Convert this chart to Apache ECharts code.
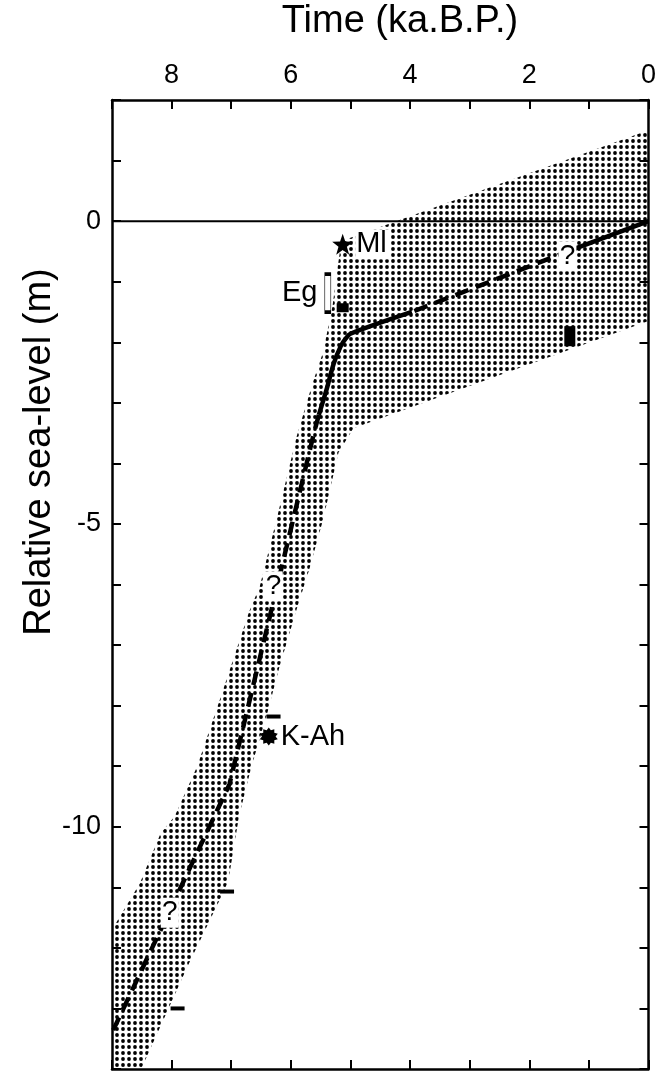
<!DOCTYPE html>
<html>
<head>
<meta charset="utf-8">
<script src="https://cdn.jsdelivr.net/npm/echarts@6/dist/echarts.min.js"></script>
<style>
html,body{margin:0;padding:0;background:#fff;}
#chart{width:659px;height:1072px;}
</style>
</head>
<body>
<div id="chart"></div>
<script>
// 相对海面变化曲线 (时间 ka B.P. / 海面 m)
;(function(){
	// 坐标轴上显示的标签
	var xLabels = [0, 2, 4, 6, 8];
	var yLabels = [0, -5, -10];

	// 误差范围 (点状阴影) 轮廓, [时间, 海面]
	var bandUpper = [[0, 1.5], [5.15, -0.33]];
	var bandLeft = [[5.22, -0.8], [5.3, -1.4], [5.46, -2.17], [5.63, -2.66], [5.9, -3.55], [6.24, -4.93], [6.52, -6.03], [6.7, -6.45], [7.19, -7.9], [7.57, -9.0], [7.95, -9.83], [8.18, -10.1], [8.53, -10.93], [9.0, -11.7]];
	var bandBottom = [[9.0, -14], [8.51, -14]];
	var bandRight = [[7.73, -12.3], [7.19, -11.2], [7.05, -10.9], [6.87, -9.83], [6.66, -9.0], [6.41, -8.18], [6.19, -7.36], [5.9, -6.4], [5.69, -5.75], [5.46, -4.93], [5.2, -3.82], [4.95, -3.42]];
	var bandLower = [[0, -1.65]];

	// 海面曲线: 实线 / 虚线 分段
	var curveSolidTop = [[0, 0], [1.3, -0.48]];
	var curveDashTop = [[1.3, -0.48], [3.97, -1.5]];
	var curveSolidMid = [[3.97, -1.5], [5.0, -1.86], [5.08, -1.94], [5.16, -2.06], [5.28, -2.35], [5.4, -2.78], [5.53, -3.2]];
	var curveDashLow = [[5.53, -3.2], [5.61, -3.49], [7.03, -9.3], [9.0, -13.4]];

	// 零线
	var zeroLine = [[0, 0], [9, 0]];

	// 各种资料点
	var mlStar = [[5.13, -0.38]];
	var egBar = [[5.38, -1.19]];
	var egBlock = [[5.13, -1.43]];
	var blackBlock = [[1.32, -1.9]];
	var kahMark = [[6.37, -8.51]];
	var dashMarks = [[6.29, -8.18], [7.07, -11.07], [7.9, -13.0]];
	var qMarks = [[1.36, -0.58], [6.29, -6.03], [8.03, -11.42]];

	var bandOutline = [].concat(bandUpper, bandLeft, bandBottom, bandRight, bandLower);

	// 点状花纹
	var dot = document.createElement('canvas');
	dot.width = 6;
	dot.height = 6;
	var ctx = dot.getContext('2d');
	ctx.fillStyle = '#000';
	ctx.beginPath();
	ctx.arc(3, 3, 1.9, 0, Math.PI * 2);
	ctx.fill();

	// 星形符号
	var starPath = function(n, r1, r2) {
		var s = 'path://';
		for (var i = 0; i < n * 2; i++) {
			var r = i % 2 ? r2 : r1;
			var a = Math.PI * i / n - Math.PI / 2;
			s += (i ? 'L' : 'M') + (50 + r * Math.cos(a)).toFixed(2) + ',' + (50 + r * Math.sin(a)).toFixed(2);
		}
		return s + 'Z';
	};

	var font = '"Liberation Sans", Arial, sans-serif';

	var axisCommon = function(pos, showLabel, isX) {
		return {
			type: 'value',
			position: pos,
			inverse: isX,
			min: isX ? 0 : -14,
			max: isX ? 9 : 2,
			interval: 1,
			splitLine: { show: false },
			axisLine: { show: true, onZero: false, lineStyle: { color: '#000', width: 2.5 } },
			axisTick: { show: true, inside: true, length: 9, lineStyle: { color: '#000', width: 2 } },
			axisLabel: {
				show: showLabel,
				color: '#000',
				fontSize: 27,
				fontFamily: font,
				margin: 11,
				formatter: function(v) {
					var list = isX ? xLabels : yLabels;
					return list.indexOf(v) >= 0 ? String(v) : '';
				}
			}
		};
	};

	var solid = { color: '#000', opacity: 1 };

	var chartDom = document.getElementById('chart');
	var myChart = echarts.init(chartDom);
	var option = {
		animation: false,
		backgroundColor: '#fff',
		grid: { left: 112, right: 2, top: 100, bottom: 3 },
		xAxis: [axisCommon('top', true, true), axisCommon('bottom', false, true)],
		yAxis: [axisCommon('left', true, false), axisCommon('right', false, false)],
		graphic: [
			{
				type: 'text', x: 400, y: 22,
				style: { text: 'Time (ka.B.P.)', font: '38px ' + font, fill: '#000', textAlign: 'center', textVerticalAlign: 'middle' }
			},
			{
				type: 'text', x: 40, y: 452, rotation: Math.PI / 2,
				style: { text: 'Relative sea-level (m)', font: '38px ' + font, fill: '#000', textAlign: 'center', textVerticalAlign: 'middle' }
			}
		],
		series: [
			{
				type: 'custom',
				clip: true,
				silent: true,
				z: 1,
				data: [[0, 0]],
				renderItem: function(params, api) {
					var pts = bandOutline.map(function(p) { return api.coord(p); });
					return {
						type: 'polygon',
						shape: { points: pts },
						style: { fill: { image: dot, repeat: 'repeat' }, stroke: null }
					};
				}
			},
			{
				type: 'line', data: zeroLine, symbol: 'none', z: 2,
				lineStyle: { color: '#000', width: 2 }
			},
			{
				type: 'line', data: curveSolidTop, symbol: 'none', z: 3,
				lineStyle: { color: '#000', width: 4.5 }
			},
			{
				type: 'line', data: curveDashTop, symbol: 'none', z: 3,
				lineStyle: { color: '#000', width: 4.5, type: [14, 8] }
			},
			{
				type: 'line', data: curveSolidMid, symbol: 'none', z: 3, smooth: 0.3,
				lineStyle: { color: '#000', width: 4.5 }
			},
			{
				type: 'line', data: curveDashLow, symbol: 'none', z: 3,
				lineStyle: { color: '#000', width: 4.5, type: [14, 8] }
			},
			{
				type: 'scatter', data: mlStar, z: 5,
				symbol: starPath(5, 50, 20), symbolSize: 21,
				itemStyle: solid,
				label: {
					show: true, position: 'right', distance: 2, formatter: 'Ml',
					color: '#000', fontSize: 29, fontFamily: font,
					backgroundColor: '#fff', padding: [1, 3, 0, 1]
				}
			},
			{
				type: 'scatter', data: egBar, z: 5,
				symbol: 'rect', symbolSize: [6, 38],
				itemStyle: { color: '#fff', borderColor: '#000', borderWidth: 1.5, opacity: 1 },
				label: {
					show: true, position: 'left', distance: 7, formatter: 'Eg',
					color: '#000', fontSize: 29, fontFamily: font
				}
			},
			{
				type: 'scatter', data: egBlock, z: 5,
				symbol: 'rect', symbolSize: [12, 9],
				itemStyle: solid
			},
			{
				type: 'scatter', data: blackBlock, z: 5,
				symbol: 'rect', symbolSize: [11, 20],
				itemStyle: solid
			},
			{
				type: 'scatter', data: kahMark, z: 5,
				symbol: starPath(10, 50, 36), symbolSize: 18,
				itemStyle: solid,
				label: {
					show: true, position: 'right', distance: 3, formatter: 'K-Ah',
					color: '#000', fontSize: 29, fontFamily: font
				}
			},
			{
				type: 'scatter', data: dashMarks, z: 5,
				symbol: 'rect', symbolSize: [14, 4],
				itemStyle: solid
			},
			{
				type: 'scatter', data: qMarks, z: 6,
				symbol: 'rect', symbolSize: [18, 30],
				itemStyle: { color: '#fff', opacity: 1 },
				label: {
					show: true, position: 'inside', formatter: '?',
					color: '#000', fontSize: 28, fontFamily: font
				}
			}
		]
	};
	option && myChart.setOption(option);
})();
</script>
</body>
</html>
